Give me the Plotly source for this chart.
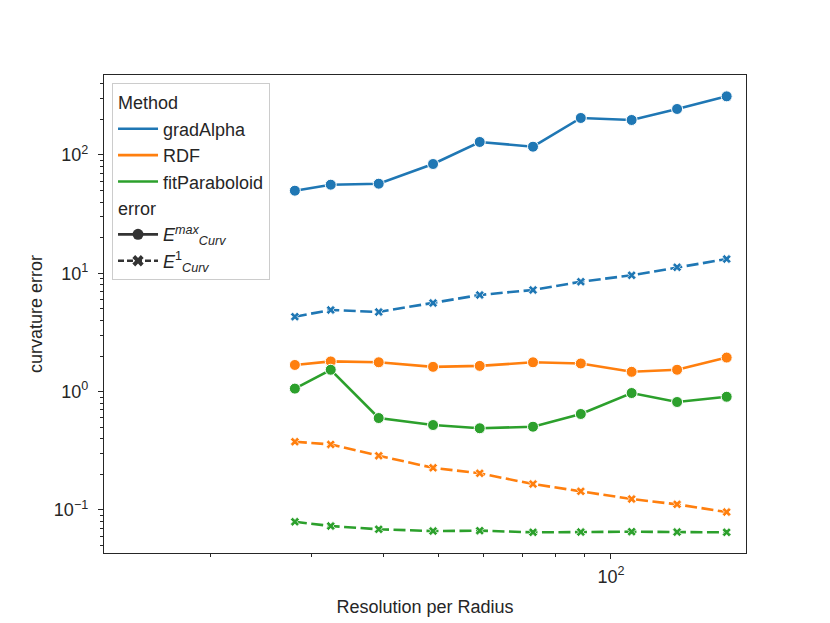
import plotly.graph_objects as go

# resolution per radius (x) for every series
resolution = [28.05, 32.4, 39.3, 48.9, 59.0, 73.1, 88.6, 108.7, 130.5, 159.3]

# curvature error
grad_max = [49.9, 56.1, 57.2, 83.9, 128.8, 117.5, 205.5, 197.6, 244.8, 313.0]
grad_l1 = [4.30, 4.90, 4.71, 5.61, 6.56, 7.23, 8.49, 9.62, 11.24, 13.2]
rdf_max = [1.68, 1.80, 1.77, 1.62, 1.65, 1.77, 1.73, 1.47, 1.53, 1.94]
rdf_l1 = [0.377, 0.358, 0.287, 0.227, 0.204, 0.1655, 0.1436, 0.1236, 0.1115, 0.0959]
fit_max = [1.06, 1.53, 0.598, 0.522, 0.490, 0.505, 0.647, 0.973, 0.817, 0.905]
fit_l1 = [0.0794, 0.0731, 0.0686, 0.0663, 0.0668, 0.0647, 0.0650, 0.0655, 0.0650, 0.0647]

methods = ["gradAlpha", "RDF", "fitParaboloid"]
colors = ["#1f77b4", "#ff7f0e", "#2ca02c"]
err_labels = ["<i>E</i><sup><i>max</i></sup><sub><i>Curv</i></sub>",
              "<i>E</i><sup>1</sup><sub><i>Curv</i></sub>"]

y_ticks = [0.1, 1, 10, 100]
y_ticktext = ["10<sup>\u22121</sup>", "10<sup>0</sup>", "10<sup>1</sup>", "10<sup>2</sup>"]
x_ticks = [100]
x_ticktext = ["10<sup>2</sup>"]

series = {
    "gradAlpha": (grad_max, grad_l1),
    "RDF": (rdf_max, rdf_l1),
    "fitParaboloid": (fit_max, fit_l1),
}

FS = 18
INK = "#262626"

fig = go.Figure()

for name, col in zip(methods, colors):
    ymax, yl1 = series[name]
    fig.add_trace(go.Scatter(
        x=resolution, y=ymax, mode="lines+markers", showlegend=False,
        line=dict(color=col, width=2.6),
        marker=dict(symbol="circle", size=11, color=col, line=dict(color="white", width=1)),
    ))
    fig.add_trace(go.Scatter(
        x=resolution, y=yl1, mode="lines+markers", showlegend=False,
        line=dict(color=col, width=2.6, dash="12px,4.5px"),
        marker=dict(symbol="x", size=8, color=col, line=dict(color="white", width=0.7)),
    ))

# legend handles (no data)
for name, col in zip(methods, colors):
    fig.add_trace(go.Scatter(
        x=[None], y=[None], mode="lines", name=name,
        line=dict(color=col, width=2.6),
        legendgroup="method", legendgrouptitle=dict(text="Method"),
    ))
fig.add_trace(go.Scatter(
    x=[None], y=[None], mode="lines+markers", name=err_labels[0],
    line=dict(color="#333333", width=2.6),
    marker=dict(symbol="circle", size=11, color="#333333"),
    legendgroup="error", legendgrouptitle=dict(text="error"),
))
fig.add_trace(go.Scatter(
    x=[None], y=[None], mode="lines+markers", name=err_labels[1],
    line=dict(color="#333333", width=2.6, dash="6px,3px"),
    marker=dict(symbol="x", size=10, color="#333333"),
    legendgroup="error", legendgrouptitle=dict(text="error"),
))

x_minor = [v * 10 for v in range(2, 10)]
y_minor = [m * 10.0 ** e for e in range(-2, 3) for m in range(2, 10)]

axis_common = dict(
    type="log", showgrid=False, zeroline=False,
    showline=True, mirror=True, linecolor=INK, linewidth=1.3,
    ticks="outside", ticklen=5, tickwidth=1.1, tickcolor=INK,
    tickmode="array",
    tickfont=dict(size=FS, color=INK),
)

fig.update_layout(
    width=830, height=623,
    margin=dict(l=96, r=92, t=67, b=78),
    paper_bgcolor="white", plot_bgcolor="white",
    font=dict(family="Liberation Sans, Arial, sans-serif", size=FS, color=INK),
    xaxis=dict(
        axis_common, range=[1.1145, 2.236],
        tickvals=x_ticks, ticktext=x_ticktext,
        ticklabelstandoff=2,
        minor=dict(tickvals=x_minor, ticks="outside", ticklen=3, tickwidth=0.9, tickcolor=INK),
        title=dict(text="Resolution per Radius", font=dict(size=FS), standoff=14),
    ),
    yaxis=dict(
        axis_common, range=[-1.364, 2.676],
        tickvals=y_ticks, ticktext=y_ticktext,
        ticklabelstandoff=6,
        minor=dict(tickvals=y_minor, ticks="outside", ticklen=3, tickwidth=0.9, tickcolor=INK),
        title=dict(text="curvature error", font=dict(size=FS), standoff=6),
    ),
    legend=dict(
        x=0.0125, y=0.983, xanchor="left", yanchor="top",
        bgcolor="rgba(255,255,255,0.8)", bordercolor="#cccccc", borderwidth=1,
        font=dict(size=FS, color=INK),
        traceorder="grouped", tracegroupgap=0, itemwidth=40,
        grouptitlefont=dict(size=FS, color=INK),
    ),
)

fig.write_html("out.html")
